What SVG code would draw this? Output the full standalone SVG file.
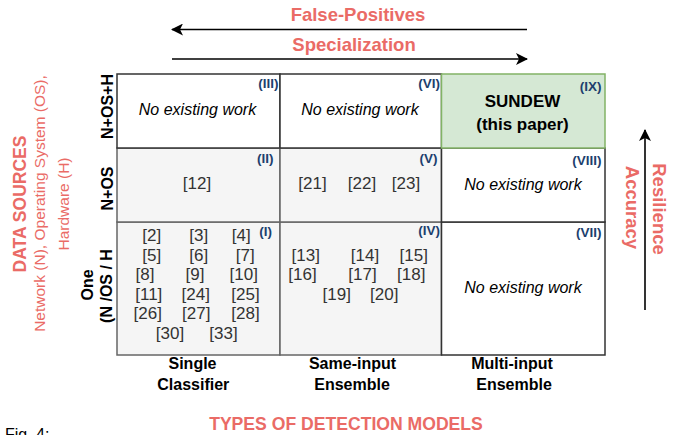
<svg xmlns="http://www.w3.org/2000/svg" width="681" height="435" viewBox="0 0 681 435">
<defs>
<marker id="ah" viewBox="0 0 12 12" refX="11" refY="6" markerWidth="12" markerHeight="12" markerUnits="userSpaceOnUse" orient="auto">
<path d="M0,0 L12,6 L0,12 L3,6 Z" fill="#000"/>
</marker>
<style>
text{font-family:"Liberation Sans",Arial,sans-serif}
.red{fill:#EA6B66;font-weight:bold}
.redn{fill:#EA6B66}
.hdr{font-weight:bold;font-size:16px;fill:#000}
.ne{font-style:italic;font-size:16px;fill:#000}
.ref{font-size:17px;fill:#333}
.rn{font-weight:bold;font-size:13.5px;fill:#1d3f6e;text-anchor:end}
.w{fill:#fff;stroke:#333;stroke-width:1.5}
.g{fill:#f5f5f5;stroke:#666;stroke-width:1.5}
.arr{stroke:#000;stroke-width:1.6;fill:none}
</style>
</defs>
<rect width="681" height="435" fill="#fff"/>

<g id="top-labels">
<text x="358" y="21" class="red" font-size="18.5" text-anchor="middle">False-Positives</text>
<text x="354" y="51" class="red" font-size="18.5" text-anchor="middle">Specialization</text>
</g>

<g id="connectors">
<line class="arr" x1="527" y1="29.5" x2="172" y2="29.5" marker-end="url(#ah)"/>
<line class="arr" x1="172" y1="59" x2="527" y2="59" marker-end="url(#ah)"/>
<line class="arr" x1="645" y1="310" x2="645" y2="130" marker-end="url(#ah)"/>
</g>

<g id="cell-I">
<rect class="g" x="117" y="222" width="163" height="133"/>
<g class="ref" text-anchor="middle">
<text x="151.7" y="241">[2]</text><text x="198.7" y="241">[3]</text><text x="241.3" y="241">[4]</text>
<text x="151.7" y="261">[5]</text><text x="198.7" y="261">[6]</text><text x="245.3" y="261">[7]</text>
<text x="145" y="280">[8]</text><text x="195" y="280">[9]</text><text x="243.8" y="280">[10]</text>
<text x="148.8" y="299.5">[11]</text><text x="195.8" y="299.5">[24]</text><text x="245.5" y="299.5">[25]</text>
<text x="147.8" y="319">[26]</text><text x="196.3" y="319">[27]</text><text x="245.5" y="319">[28]</text>
<text x="170" y="339">[30]</text><text x="223.5" y="339">[33]</text>
</g>
<text class="rn" x="272" y="236">(I)</text>
</g>

<g id="cell-II">
<rect class="g" x="117" y="148" width="163" height="74"/>
<text class="ref" x="197" y="189" text-anchor="middle">[12]</text>
<text class="rn" x="273.5" y="163">(II)</text>
</g>

<g id="cell-III">
<rect class="w" x="117" y="74" width="163" height="74"/>
<text class="ne" x="197.5" y="114.5" text-anchor="middle">No existing work</text>
<text class="rn" x="278.5" y="88">(III)</text>
</g>

<g id="cell-IV">
<rect class="g" x="280" y="222" width="161.5" height="133"/>
<g class="ref" text-anchor="middle">
<text x="305.8" y="261">[13]</text><text x="365" y="261">[14]</text><text x="413.8" y="261">[15]</text>
<text x="302.5" y="280">[16]</text><text x="362.5" y="280">[17]</text><text x="411.2" y="280">[18]</text>
<text x="336.7" y="299.5">[19]</text><text x="384.2" y="299.5">[20]</text>
</g>
<text class="rn" x="440" y="235">(IV)</text>
</g>

<g id="cell-V">
<rect class="g" x="280" y="148" width="161.5" height="74"/>
<g class="ref" text-anchor="middle">
<text x="312.5" y="189">[21]</text><text x="362" y="189">[22]</text><text x="406" y="189">[23]</text>
</g>
<text class="rn" x="437.5" y="163">(V)</text>
</g>

<g id="cell-VI">
<rect class="w" x="280" y="74" width="161.5" height="74"/>
<text class="ne" x="360" y="114.5" text-anchor="middle">No existing work</text>
<text class="rn" x="440" y="88">(VI)</text>
</g>

<g id="cell-VII">
<rect class="w" x="441.5" y="222" width="163.5" height="133"/>
<text class="ne" x="523" y="293" text-anchor="middle">No existing work</text>
<text class="rn" x="601.5" y="237">(VII)</text>
</g>

<g id="cell-VIII">
<rect class="w" x="441.5" y="148" width="163.5" height="74"/>
<text class="ne" x="523" y="189.5" text-anchor="middle">No existing work</text>
<text class="rn" x="601.5" y="165">(VIII)</text>
</g>

<g id="cell-IX">
<rect x="441.5" y="74" width="163.5" height="74" fill="#d5e8d4" stroke="#82b366" stroke-width="1.5"/>
<text x="522.5" y="106.5" font-size="17" font-weight="bold" text-anchor="middle" fill="#000">SUNDEW</text>
<text x="522.5" y="129.5" font-size="17" font-weight="bold" text-anchor="middle" fill="#000">(this paper)</text>
<text class="rn" x="601.5" y="91">(IX)</text>
</g>

<g id="row-labels" class="hdr" text-anchor="middle">
<text transform="translate(113,106.5) rotate(-90)">N+OS+H</text>
<text transform="translate(113,188.5) rotate(-90)">N+OS</text>
<text transform="translate(93,285) rotate(-90)">One</text>
<text transform="translate(112,286) rotate(-90)">(N /OS / H</text>
</g>

<g id="col-labels" class="hdr" text-anchor="middle">
<text x="192.5" y="368.5">Single</text>
<text x="193.3" y="389.5">Classifier</text>
<text x="352.5" y="368.5">Same-input</text>
<text x="352" y="389.5">Ensemble</text>
<text x="512" y="368.5">Multi-input</text>
<text x="514" y="389.5">Ensemble</text>
</g>

<g id="axis-left" text-anchor="middle">
<text class="red" font-size="17.5" transform="translate(26,204) rotate(-90)">DATA SOURCES</text>
<text class="redn" font-size="15.5" transform="translate(44.5,203.5) rotate(-90)">Network (N), Operating System (OS),</text>
<text class="redn" font-size="15.5" transform="translate(69,204) rotate(-90)">Hardware (H)</text>
</g>

<g id="axis-right" text-anchor="middle">
<text class="red" font-size="18.5" transform="translate(652.5,209) rotate(90)">Resilience</text>
<text class="red" font-size="18.5" transform="translate(625.5,207.5) rotate(90)">Accuracy</text>
</g>

<g id="axis-bottom">
<text class="red" font-size="17.6" x="346" y="430" text-anchor="middle">TYPES OF DETECTION MODELS</text>
</g>

<text x="5" y="440" font-family="Liberation Serif, serif" font-size="16" fill="#000">Fig. 4:</text>
</svg>
